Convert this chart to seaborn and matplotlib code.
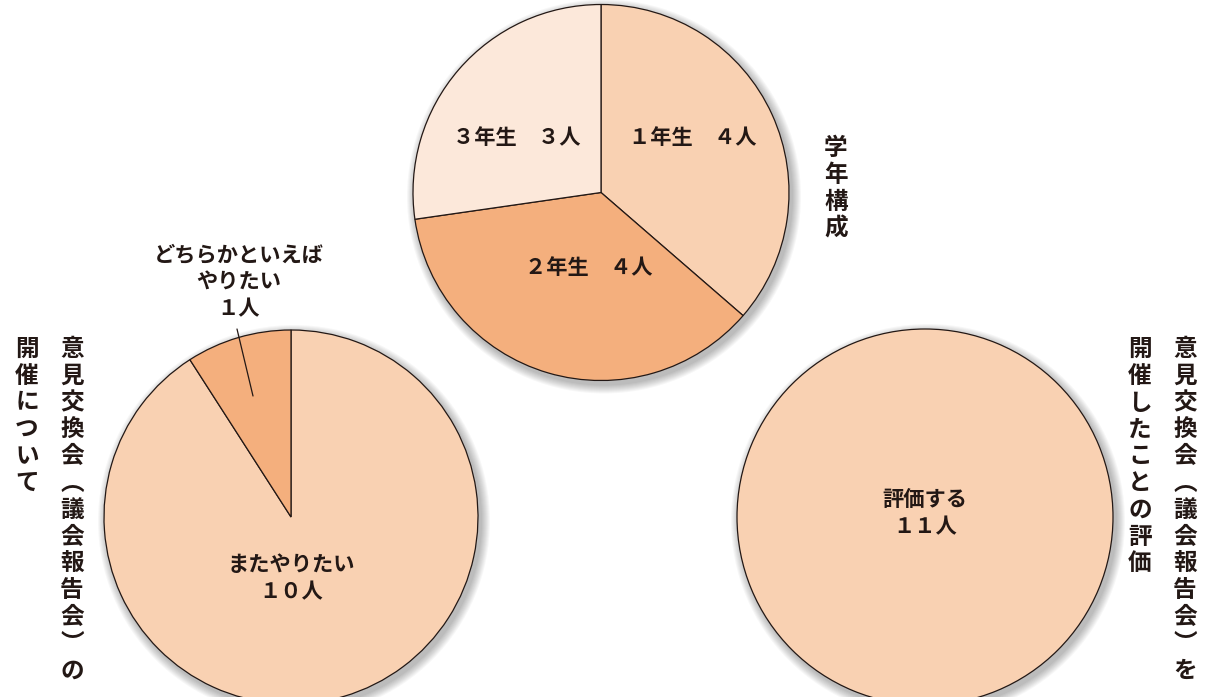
import matplotlib
matplotlib.use("Agg")
import matplotlib.pyplot as plt
from matplotlib.patches import Circle
import seaborn as sns

sns.set_theme(style="white")
plt.rcParams['font.family'] = ['Noto Sans CJK JP', 'DejaVu Sans']

# ---- data ----
grade_labels = ["１年生　４人", "２年生　４人", "３年生　３人"]
grade_values = [4, 4, 3]
grade_colors = ["#F9D1B2", "#F4AF7D", "#FCE8DA"]

again_labels = ["またやりたい\n１０人", "どちらかといえば\nやりたい\n１人"]
again_values = [10, 1]
again_colors = ["#F9D1B2", "#F4AF7D"]

eval_labels = ["評価する\n１１人"]
eval_values = [11]
eval_colors = ["#F9D1B2"]

title_grade = "学年構成"
title_left = ["意見交換会︵議会報告会︶の", "開催について"]
title_right = ["意見交換会︵議会報告会︶を", "開催したことの評価"]

TXT = "#231815"
W, H = 1208, 697

fig = plt.figure(figsize=(W / 100, H / 100), dpi=100)
ax = fig.add_axes([0, 0, 1, 1])
ax.set_xlim(0, W)
ax.set_ylim(0, H)
ax.set_aspect('equal')
ax.axis('off')


def py(y):
    return H - y


def shadow(cx, cy, r):
    for i in range(9):
        ax.add_patch(Circle((cx + 3, py(cy) - 4), r + 1 + i * 1.0,
                            facecolor="#000000", alpha=0.032, lw=0, zorder=0))


def draw_pie(values, colors, cx, cy, r):
    shadow(cx, cy, r)
    wedges, _ = ax.pie(values, colors=colors, startangle=90, counterclock=False,
                       center=(cx, py(cy)), radius=r, frame=True,
                       wedgeprops=dict(edgecolor=TXT, linewidth=0.9))
    for w in wedges:
        w.set_zorder(2)
    return wedges


draw_pie(grade_values, grade_colors, 601, 192.5, 188)
draw_pie(again_values, again_colors, 291, 517, 187)
draw_pie(eval_values, eval_colors, 925, 517, 188)
ax.set_xlim(0, W)
ax.set_ylim(0, H)
ax.axis('off')

fs = 15.3
kw = dict(ha='center', va='center', fontsize=fs, fontweight='bold', color=TXT,
          zorder=5, linespacing=1.35)
ax.text(693, py(137), grade_labels[0], **kw)
ax.text(589, py(268), grade_labels[1], **kw)
ax.text(517, py(137), grade_labels[2], **kw)
ax.text(291, py(578), again_labels[0], **kw)
ax.text(239, py(282), again_labels[1], **kw)
ax.text(925, py(513), eval_labels[0], **kw)

# leader line for the small slice
ax.plot([253, 237], [py(396), py(329)], color=TXT, lw=0.9, zorder=4)


def vtext(s, x, y0, pitch=26.8, size=17):
    for i, ch in enumerate(s):
        ax.text(x, py(y0 + i * pitch), ch, ha='center', va='center',
                fontsize=size, fontweight='bold', color=TXT, zorder=5)


vtext(title_grade, 836, 148)
vtext(title_left[0], 72, 349)
vtext(title_left[1], 27, 349)
vtext(title_right[0], 1185, 349)
vtext(title_right[1], 1140, 349)

fig.savefig("out.png", dpi=100, facecolor="white")
